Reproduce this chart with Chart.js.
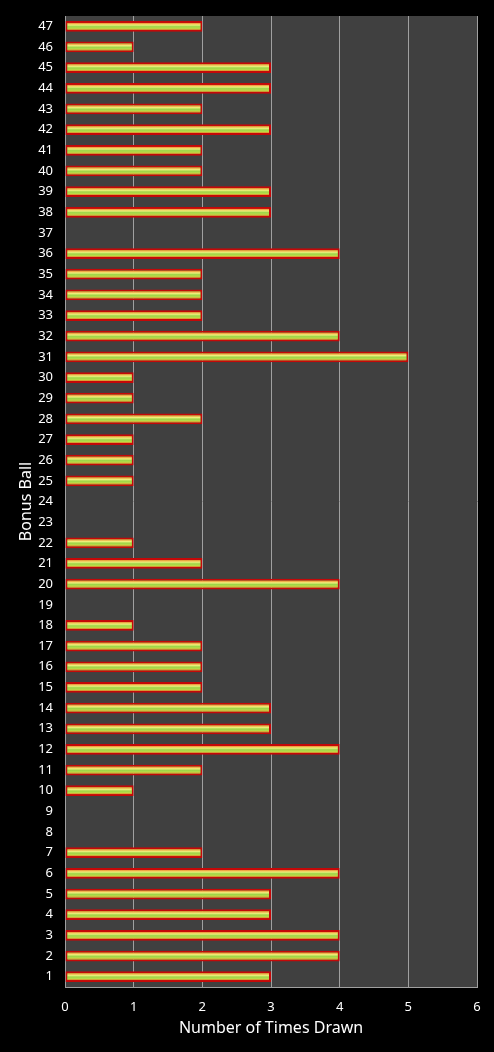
<!DOCTYPE html>
<html>
<head>
<meta charset="utf-8">
<script src="https://cdn.jsdelivr.net/npm/chart.js@4"></script>
<style>
html,body{margin:0;padding:0;background:#000;}
#wrap{width:494px;height:1052px;}
</style>
</head>
<body>
<div id="wrap"><canvas id="c"></canvas></div>
<script>
const categories = ["1","2","3","4","5","6","7","8","9","10","11","12","13","14","15","16","17","18","19","20","21","22","23","24","25","26","27","28","29","30","31","32","33","34","35","36","37","38","39","40","41","42","43","44","45","46","47"];
const timesDrawn = [3,4,4,3,3,4,2,0,0,1,2,4,3,3,2,2,2,1,0,4,2,1,0,0,1,1,1,2,1,1,5,4,2,2,2,4,0,3,3,2,2,3,2,3,3,1,2];
const xTicks = [0,1,2,3,4,5,6];
const xTitle = "Number of Times Drawn";
const yTitle = "Bonus Ball";

const plotBg = {
  id:'plotBg',
  beforeDraw(chart){
    const {ctx, chartArea:a} = chart;
    ctx.save();
    ctx.fillStyle = '#404040';
    ctx.fillRect(a.left, a.top, a.right-a.left, a.bottom-a.top);
    ctx.restore();
  }
};
const barGlow = {
  id:'barGlow',
  afterDatasetsDraw(chart){
    const ctx = chart.ctx;
    const meta = chart.getDatasetMeta(0);
    meta.data.forEach((el, i) => {
      if (!timesDrawn[i]) return;
      const p = el.getProps(['x','y','base','height'], true);
      const left = Math.min(p.base, p.x) + 2, right = Math.max(p.base, p.x) - 2;
      const top = p.y - p.height/2 + 2, bottom = p.y + p.height/2 - 2;
      if (right <= left || bottom <= top) return;
      const g = ctx.createLinearGradient(0, top, 0, bottom);
      g.addColorStop(0, '#f08a30');
      g.addColorStop(0.3, '#eef07a');
      g.addColorStop(0.55, '#9ed448');
      g.addColorStop(0.8, '#b8dc48');
      g.addColorStop(1, '#e8802a');
      ctx.save();
      ctx.fillStyle = g;
      ctx.fillRect(left, top, right-left, bottom-top);
      ctx.restore();
    });
  }
};

new Chart(document.getElementById('c'), {
  type:'bar',
  data:{
    labels: categories,
    datasets:[{
      data: timesDrawn,
      backgroundColor:'#b0d848',
      borderColor:'#c40808',
      borderWidth:(c)=> timesDrawn[c.dataIndex] ? 2 : 0,
      borderSkipped:false,
      barPercentage:0.52,
      categoryPercentage:1.0
    }]
  },
  options:{
    indexAxis:'y',
    responsive:true,
    maintainAspectRatio:false,
    animation:false,
    layout:{padding:{top:16,right:17,left:0,bottom:0}},
    plugins:{legend:{display:false},tooltip:{enabled:false}},
    scales:{
      x:{
        min:0,max:6,
        afterBuildTicks(s){ s.ticks = xTicks.map(v=>({value:v})); },
        afterFit(s){ s.height = 65; s.paddingLeft = 0; s.paddingRight = 0; },
        grid:{color:'#a0a0a0',lineWidth:1,drawTicks:false,tickLength:0},
        border:{color:'#a0a0a0',width:1},
        ticks:{color:'#ffffff',font:{family:'Noto Sans',size:13},padding:12},
        title:{display:true,text:xTitle,color:'#ffffff',font:{family:'Noto Sans',size:16},padding:{top:4,bottom:14}}
      },
      y:{
        reverse:true,
        afterFit(s){ s.width = 65; s.paddingTop = 0; s.paddingBottom = 0; },
        grid:{display:false,drawTicks:false},
        border:{color:'#a0a0a0',width:1},
        ticks:{color:'#ffffff',font:{family:'Noto Sans',size:13},padding:12,autoSkip:false},
        title:{display:true,text:yTitle,color:'#ffffff',font:{family:'Noto Sans',size:16},padding:{top:17,bottom:0}}
      }
    }
  },
  plugins:[plotBg, barGlow]
});
</script>
</body>
</html>
